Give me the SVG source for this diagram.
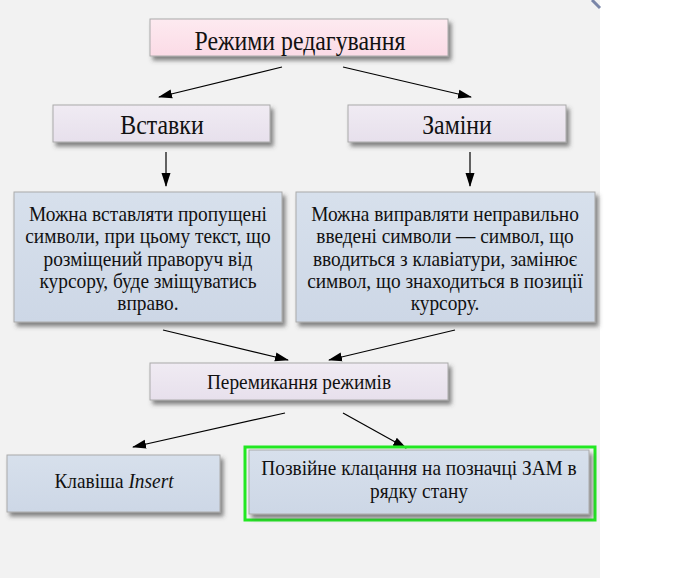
<svg xmlns="http://www.w3.org/2000/svg" width="683" height="578" viewBox="0 0 683 578">
<defs>
<filter id="sh" x="-10%" y="-10%" width="130%" height="140%">
<feDropShadow dx="3" dy="4" stdDeviation="2" flood-color="#444" flood-opacity="0.65"/>
</filter>
<linearGradient id="pink" x1="0" y1="0" x2="0" y2="1">
<stop offset="0" stop-color="#fdeaf0"/><stop offset="1" stop-color="#fbdbe6"/>
</linearGradient>
<linearGradient id="lav" x1="0" y1="0" x2="0" y2="1">
<stop offset="0" stop-color="#f0ebf3"/><stop offset="1" stop-color="#e7e0ec"/>
</linearGradient>
<linearGradient id="blue" x1="0" y1="0" x2="0" y2="1">
<stop offset="0" stop-color="#d7e0ec"/><stop offset="1" stop-color="#cdd7e6"/>
</linearGradient>
<marker id="ah" viewBox="0 0 14 10" refX="13" refY="5" markerWidth="14" markerHeight="10" markerUnits="userSpaceOnUse" orient="auto">
<path d="M0,0.5 L14,5 L0,9.5 z" fill="#000"/>
</marker>
</defs>
<style>
.t{font-family:"Liberation Serif","Times New Roman",serif;fill:#111;text-anchor:middle}
.big{font-size:26.5px}
.sm{font-size:21.5px}
.box{stroke:#aaa;stroke-width:1;filter:url(#sh)}
.c{stroke:#000;stroke-width:1.2;fill:none;marker-end:url(#ah)}
</style>
<rect x="0" y="0" width="600" height="578" fill="#f2f2f2"/>
<rect x="600" y="0" width="83" height="578" fill="#fff"/>
<path d="M592,0 L600,8" stroke="#7a86a8" stroke-width="3"/>

<g id="connectors">
<line class="c" x1="282" y1="67" x2="159" y2="97"/>
<line class="c" x1="343" y1="67" x2="471" y2="97"/>
<line class="c" x1="166" y1="152" x2="166" y2="186"/>
<line class="c" x1="470" y1="152" x2="470" y2="186"/>
<line class="c" x1="163" y1="330" x2="288" y2="360"/>
<line class="c" x1="455" y1="330" x2="329" y2="360"/>
<line class="c" x1="285" y1="413" x2="133" y2="447"/>
<line class="c" x1="343" y1="413" x2="406" y2="448"/>
</g>

<g id="n-modes">
<rect class="box" x="150" y="19" width="298" height="37" fill="url(#pink)" stroke="#c9a0b0"/>
<g transform="scale(0.9 1)"><text class="t big" x="333.33" y="50">Режими редагування</text></g>
</g>
<g id="n-insert">
<rect class="box" x="53" y="105" width="217" height="37" fill="url(#lav)"/>
<g transform="scale(0.9 1)"><text class="t big" x="180" y="134">Вставки</text></g>
</g>
<g id="n-replace">
<rect class="box" x="348" y="105" width="218" height="37" fill="url(#lav)"/>
<g transform="scale(0.9 1)"><text class="t big" x="507.78" y="134">Заміни</text></g>
</g>
<g id="n-insert-desc">
<rect class="box" x="14" y="192" width="268" height="130" fill="url(#blue)"/>
<g transform="scale(0.9 1)">
<text class="t sm" x="164.44" y="221">Можна вставляти пропущені</text>
<text class="t sm" x="164.44" y="243">символи, при цьому текст, що</text>
<text class="t sm" x="164.44" y="266">розміщений праворуч від</text>
<text class="t sm" x="164.44" y="288">курсору, буде зміщуватись</text>
<text class="t sm" x="164.44" y="310">вправо.</text>
</g>
</g>
<g id="n-replace-desc">
<rect class="box" x="296" y="192" width="299" height="130" fill="url(#blue)"/>
<g transform="scale(0.9 1)">
<text class="t sm" x="494.44" y="221">Можна виправляти неправильно</text>
<text class="t sm" x="494.44" y="243">введені символи — символ, що</text>
<text class="t sm" x="494.44" y="266">вводиться з клавіатури, замінює</text>
<text class="t sm" x="494.44" y="288">символ, що знаходиться в позиції</text>
<text class="t sm" x="494.44" y="310">курсору.</text>
</g>
</g>
<g id="n-switch">
<rect class="box" x="150" y="363" width="298" height="37" fill="url(#lav)"/>
<g transform="scale(0.9 1)"><text class="t sm" x="332.22" y="389">Перемикання режимів</text></g>
</g>
<g id="n-key">
<rect class="box" x="7" y="455" width="213" height="57" fill="url(#blue)"/>
<g transform="scale(0.9 1)"><text class="t sm" x="126.67" y="488">Клавіша <tspan font-style="italic">Insert</tspan></text></g>
</g>
<g id="n-dblclick">
<rect x="245" y="447" width="350" height="73" fill="none" stroke="#22e822" stroke-width="3"/>
<rect class="box" x="249" y="450" width="340" height="64" fill="url(#blue)"/>
<g transform="scale(0.9 1)">
<text class="t sm" x="465.56" y="475">Позвійне клацання на позначці ЗАМ в</text>
<text class="t sm" x="465.56" y="498">рядку стану</text>
</g>
</g>
</svg>
